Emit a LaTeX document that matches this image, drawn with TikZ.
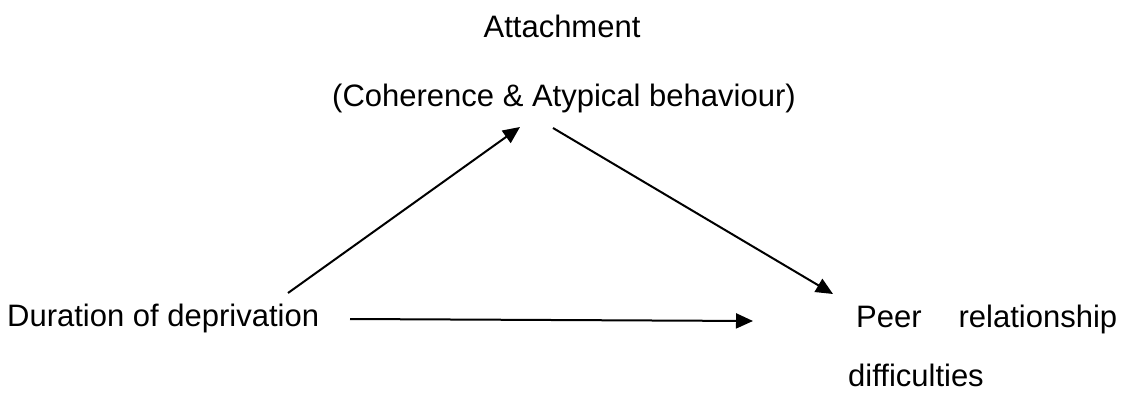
\documentclass[tikz,border=0pt]{standalone}
\usepackage{fontspec}
\setmainfont{Liberation Sans}
\usetikzlibrary{arrows.meta}
\begin{document}
\begin{tikzpicture}[x=1pt,y=-1pt,
  lbl/.style={inner sep=0pt, anchor=base west, font=\fontsize{31}{37}\selectfont},
  conn/.style={line width=2pt, -{Triangle[length=17pt,width=15pt]}}]
\useasboundingbox (0,0) rectangle (1124,398);
\node[lbl, anchor=base] (att) at (562,38) {Attachment};
\node[lbl, anchor=base] (coh) at (564,107) {(Coherence \& Atypical behaviour)};
\node[lbl] (dur) at (7,326) {Duration of deprivation};
\node[lbl] (peer) at (856,327) {\makebox[261pt]{Peer\hfill relationship}};
\node[lbl] (dif) at (848,386) {difficulties};
\coordinate (a1s) at (288,293);
\coordinate (a1e) at (520,127);
\coordinate (a2s) at (553,128);
\coordinate (a2e) at (833,294);
\coordinate (a3s) at (350,319);
\coordinate (a3e) at (753,321);
\draw[conn] (a1s) -- (a1e);
\draw[conn] (a2s) -- (a2e);
\draw[conn] (a3s) -- (a3e);
\end{tikzpicture}
\end{document}
